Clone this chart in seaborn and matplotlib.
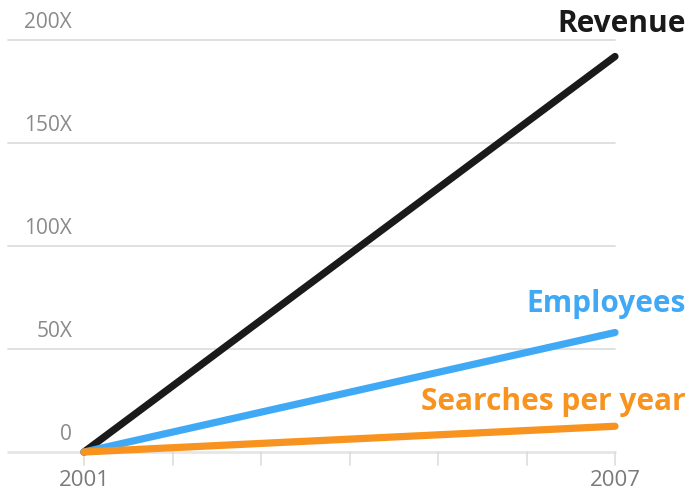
import matplotlib
matplotlib.use("Agg")
import matplotlib.pyplot as plt
import seaborn as sns
import pandas as pd

years = [2001, 2007]
revenue = [0, 192]
employees = [0, 58]
searches = [0, 12.5]
series_names = ["Revenue", "Employees", "Searches per year"]
ytick_values = [0, 50, 100, 150, 200]
ytick_labels = ["0", "50X", "100X", "150X", "200X"]
xtick_labels = {2001: "2001", 2007: "2007"}

colors = {"Revenue": "#1a1a1a", "Employees": "#3fa9f5", "Searches per year": "#f7931e"}

df = pd.DataFrame({
    "year": years * 3,
    "value": revenue + employees + searches,
    "series": [series_names[0]] * 2 + [series_names[1]] * 2 + [series_names[2]] * 2,
})

sns.set_theme(style="white")
plt.rcParams["font.family"] = ["Open Sans", "DejaVu Sans"]

fig = plt.figure(figsize=(6.89, 4.94), dpi=100)
ax = fig.add_axes([8 / 689, 1 - 452 / 494, (615 - 8) / 689, (452 - 40) / 494])

ax.set_xlim(2001 - (84 - 8) / ((615 - 84) / 6), 2007)
ax.set_ylim(0, 200)

for v in ytick_values:
    ax.axhline(v, color="#dddddd" if v else "#e6e6e6", lw=1.3 if v else 2.0, zorder=0)

for yr in range(2001, 2008):
    ax.plot([yr, yr], [0, -6.5], color="#dddddd", lw=1.2, clip_on=False, zorder=0)

sns.lineplot(data=df, x="year", y="value", hue="series", palette=colors,
             linewidth=5.2, ax=ax, legend=False, sort=False)
for line in ax.lines:
    line.set_solid_capstyle("round")
    line.set_clip_on(False)

ax.set_xticks([])
ax.set_yticks([])
ax.set_xlabel("")
ax.set_ylabel("")
for s in ax.spines.values():
    s.set_visible(False)

for v, lab in zip(ytick_values, ytick_labels):
    ax.annotate(lab, xy=(0, v), xycoords=("axes fraction", "data"),
                xytext=(64, 7), textcoords="offset pixels",
                ha="right", va="bottom", fontsize=15, color="#8a8a8a")

for yr, lab in xtick_labels.items():
    ax.annotate(lab, xy=(yr, 0), xytext=(0, -28), textcoords="offset pixels",
                ha="center", va="center", fontsize=16, color="#7a7a7a")

ends = {"Revenue": (revenue[-1], 32), "Employees": (employees[-1], 29),
        "Searches per year": (searches[-1], 24)}
for name, (val, dy) in ends.items():
    ax.annotate(name, xy=(years[-1], val), xytext=(71, dy), textcoords="offset pixels",
                ha="right", va="center", fontsize=21.5, fontweight="bold",
                color=colors[name])

fig.savefig("out.png", dpi=100)
